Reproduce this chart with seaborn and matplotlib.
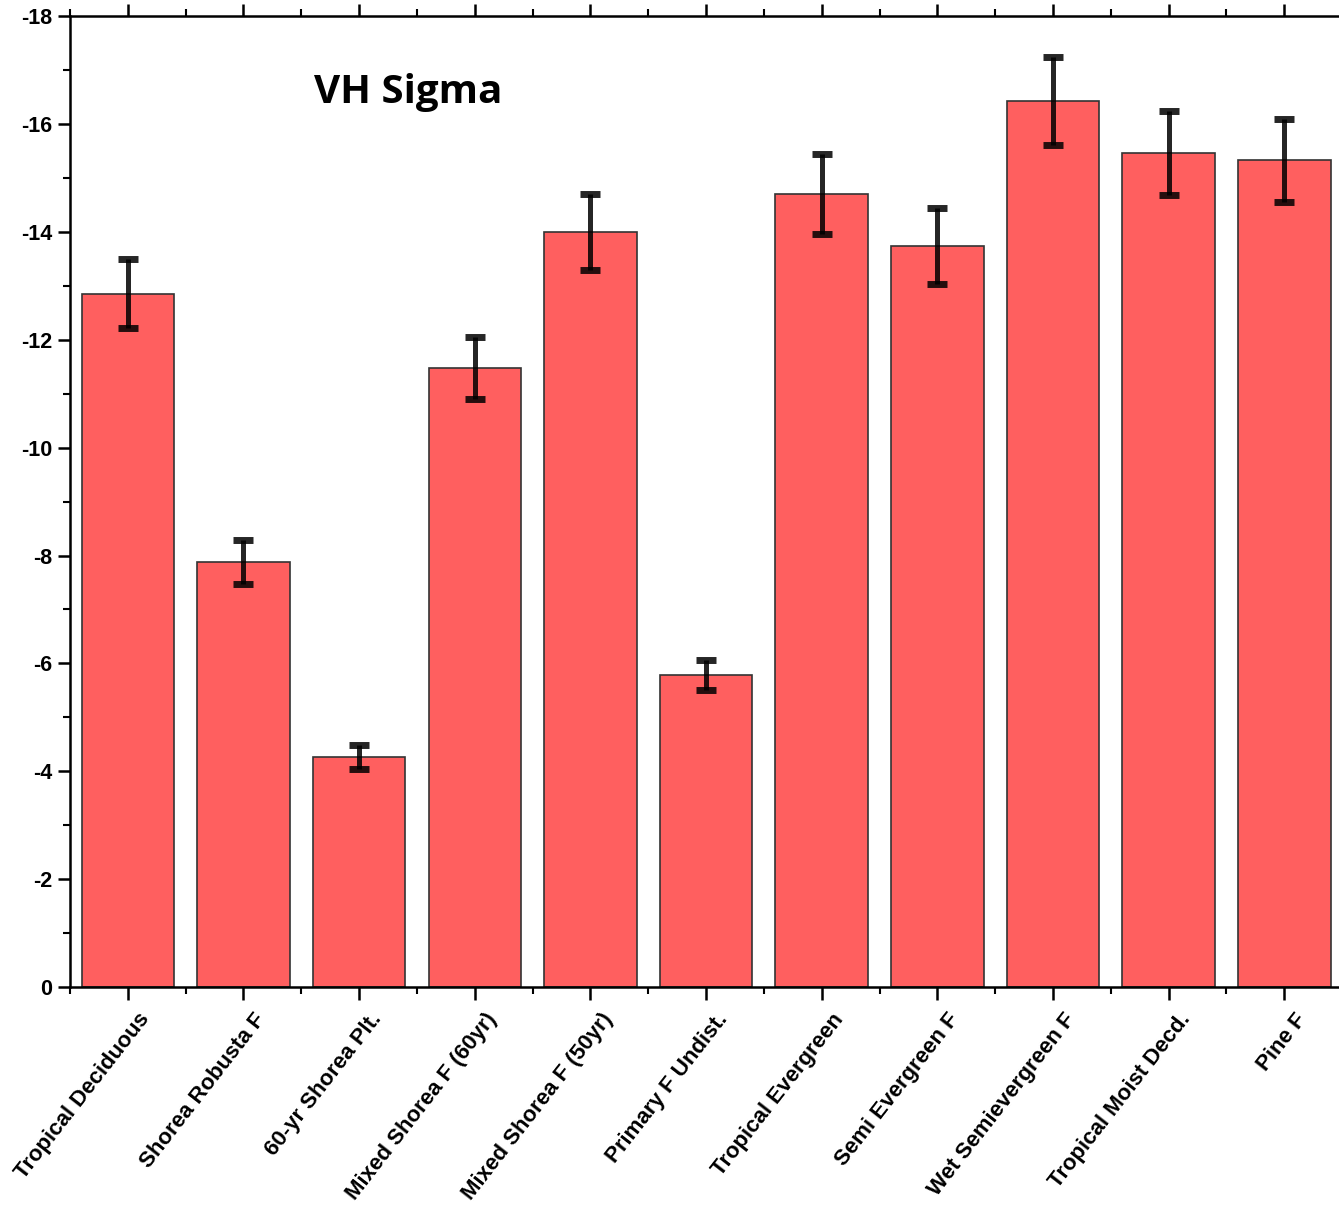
import matplotlib
matplotlib.use("Agg")
import matplotlib.pyplot as plt
from matplotlib.ticker import MultipleLocator
from matplotlib.transforms import ScaledTranslation
import seaborn as sns
import pandas as pd

categories = ["Tropical Deciduous", "Shorea Robusta F", "60-yr Shorea Plt.",
              "Mixed Shorea F (60yr)", "Mixed Shorea F (50yr)", "Primary F Undist.",
              "Tropical Evergreen", "Semi Evergreen F", "Wet Semievergreen F",
              "Tropical Moist Decd.", "Pine F"]
vh_sigma = [-12.85, -7.88, -4.27, -11.48, -14.00, -5.78,
            -14.70, -13.74, -16.43, -15.46, -15.33]
vh_err = [0.64, 0.40, 0.22, 0.58, 0.70, 0.28,
          0.74, 0.70, 0.82, 0.78, 0.77]

df = pd.DataFrame({"cls": categories, "sigma": vh_sigma, "err": vh_err})

sns.set_theme(style="ticks")
plt.rcParams["font.family"] = ["Liberation Sans", "DejaVu Sans"]
plt.rcParams["text.color"] = "black"
plt.rcParams["xtick.color"] = "black"
plt.rcParams["ytick.color"] = "black"

fig = plt.figure(figsize=(13.39, 12.06), dpi=100)
ax = fig.add_axes([0.0523, 0.1816, 0.950, 0.805])

sns.barplot(data=df, x="cls", y="sigma", color="#ff5f5f", saturation=1,
            width=0.8, edgecolor="#333333", linewidth=1.2, errorbar=None, ax=ax)

ax.errorbar(range(len(df)), df["sigma"], yerr=df["err"], fmt="none",
            ecolor="black", alpha=0.85, elinewidth=3.6, capsize=7,
            capthick=5)

ax.set_ylim(0, -18)
ax.set_xlim(-0.5, len(df) - 0.5)
ax.yaxis.set_minor_locator(MultipleLocator(1))
ax.set_xticks(range(len(df)))
ax.set_xticks([i + 0.5 for i in range(-1, len(df))], minor=True)
ax.set_yticks(range(0, -19, -2))
ax.set_xlabel("")
ax.set_ylabel("")

for s in ["left", "bottom", "top"]:
    ax.spines[s].set_linewidth(1.8)
    ax.spines[s].set_color("black")
ax.spines["right"].set_visible(False)

ax.tick_params(axis="both", which="major", length=9, width=1.8,
               direction="out", color="black", pad=4)
ax.tick_params(axis="both", which="minor", length=5, width=1.5,
               direction="out", color="black")
ax.tick_params(axis="x", which="both", top=True, labeltop=False)
ax.tick_params(axis="x", which="major", pad=7)

ax.set_yticklabels([str(v) for v in range(0, -19, -2)],
                   fontsize=15.5, fontweight="bold", color="black",
                   fontfamily="Liberation Sans")
ax.set_xticklabels(categories, rotation=52, ha="right", va="top",
                   rotation_mode="anchor", fontsize=16, fontweight="bold",
                   color="black", fontfamily="Liberation Sans")
# nudge the slanted labels to the right, like the original
shift = ScaledTranslation(0.10, 0, fig.dpi_scale_trans)
for lab in ax.get_xticklabels():
    lab.set_transform(lab.get_transform() + shift)

ax.text(0.192, 0.921, "VH Sigma", transform=ax.transAxes, fontsize=29,
        fontweight="bold", family=["Open Sans", "DejaVu Sans"],
        color="black", ha="left", va="center")

fig.savefig("out.png", dpi=100)
